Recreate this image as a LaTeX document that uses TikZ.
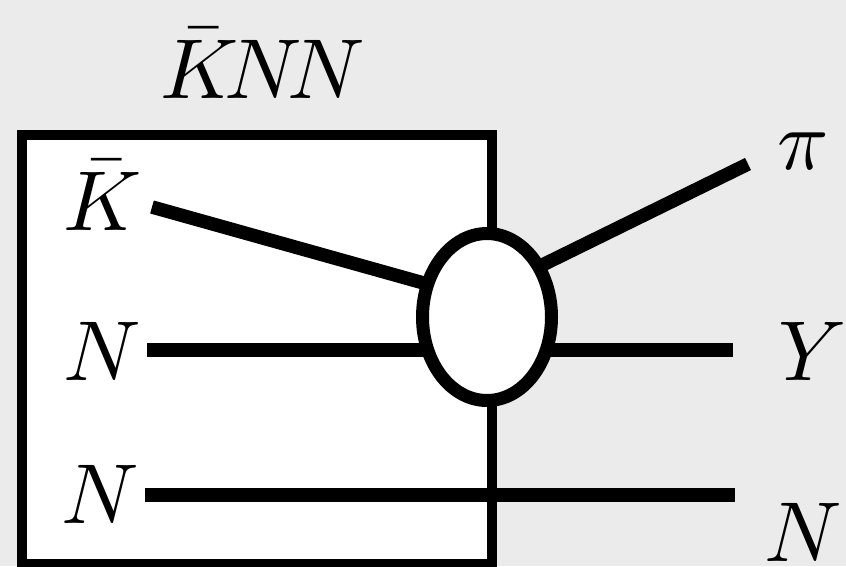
\documentclass[tikz,border=0pt]{standalone}
\usetikzlibrary{shapes.geometric}
\definecolor{bg}{HTML}{EBEBEB}
\begin{document}
\begin{tikzpicture}[x=1pt,y=-1pt,
  lbl/.style={inner sep=0pt,outer sep=0pt,anchor=base west,scale=8.5},
  leg/.style={line width=13.5pt},
  frame/.style={draw,fill=white,line width=10pt,inner sep=0pt,outer sep=0pt},
  blob/.style={ellipse,draw,fill=white,line width=13pt,inner sep=0pt,minimum width=129pt,minimum height=167pt},
]
\fill[bg] (0,0) rectangle (846,566);
\useasboundingbox (0,0) rectangle (846,566);
\node[frame,minimum width=470pt,minimum height=429.5pt,anchor=north west] (box) at (22,134.5) {};
% leg end points
\coordinate (kin) at (152,207);
\coordinate (kv) at (440,287.6);
\coordinate (pout) at (748,164);
\coordinate (pv) at (520,276);
\coordinate (nin) at (147,350);
\coordinate (nv) at (487,350);
\coordinate (yout) at (733,350);
\coordinate (bin) at (145,495);
\coordinate (bout) at (735,495);
\draw[leg] (kin) -- (kv);
\draw[leg] (pv) -- (pout);
\draw[leg] (nin) -- (nv);
\draw[leg] (nv) -- (yout);
\draw[leg] (bin) -- (bout);
\node[blob] (v) at (487,317) {};
% labels
\node[lbl] (title) at (160,98) {$\bar{K}\mkern-3mu N\mkern-3mu N$};
\node[lbl] (lk) at (63,230) {$\bar{K}$};
\node[lbl] (ln1) at (63,380) {$N$};
\node[lbl] (ln2) at (61,523) {$N$};
\node[lbl] (lpi) at (777,169) {$\pi$};
\node[lbl] (ly) at (778,380) {$Y$};
\node[lbl] (ln3) at (764,561) {$N$};
\end{tikzpicture}
\end{document}
